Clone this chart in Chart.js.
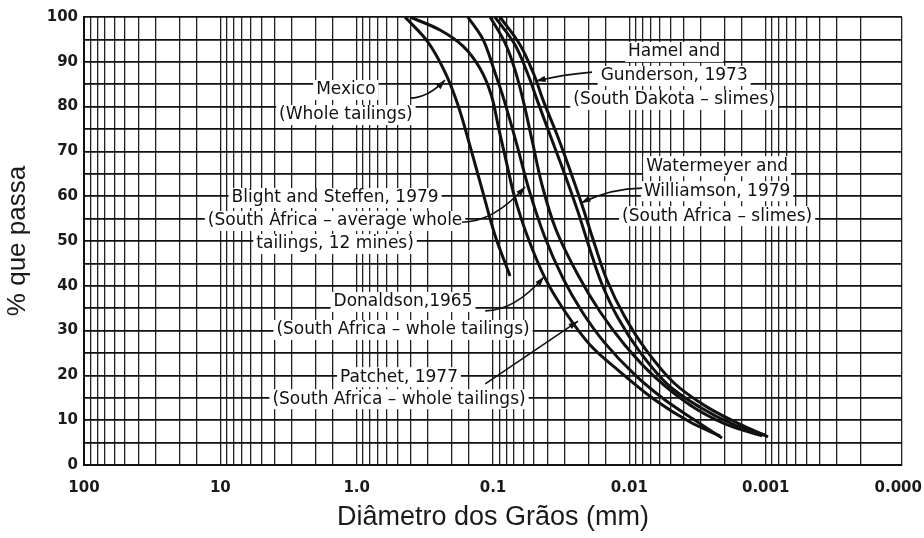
<!DOCTYPE html>
<html>
<head>
<meta charset="utf-8">
<script src="https://cdn.jsdelivr.net/npm/chart.js@4.4.0/dist/chart.umd.min.js"></script>
<style>
  html, body { margin: 0; padding: 0; background: #fff; }
</style>
</head>
<body>
<canvas id="chart" width="924" height="538"></canvas>
<script>
// eixo x: diâmetro (mm) em escala log invertida, eixo y: % que passa
const xTickValues = [100, 10, 1, 0.1, 0.01, 0.001, 0.0001];
const xTickLabels = ['100', '10', '1.0', '0.1', '0.01', '0.001', '0.000'];
const yTickValues = [0, 10, 20, 30, 40, 50, 60, 70, 80, 90, 100];

// curvas granulométricas
const mexicoDiam = [0.442, 0.300, 0.225, 0.181, 0.148, 0.120, 0.0967, 0.0750];
const mexicoPass = [100, 94.4, 87.7, 80.4, 71.4, 61.4, 51.3, 42.2];

const donaldsonDiam = [0.406, 0.245, 0.166, 0.125, 0.103, 0.0903, 0.0789, 0.0701, 0.0563, 0.0415, 0.0296, 0.0194, 0.0117, 0.00648, 0.00359, 0.00216];
const donaldsonPass = [100, 97.1, 93.5, 88.6, 82.6, 74.8, 67.0, 60.3, 51.3, 41.7, 34.2, 26.8, 20.8, 14.5, 9.6, 6.5];

const blightDiam = [0.153, 0.118, 0.0983, 0.0830, 0.0667, 0.0544, 0.0422, 0.0307, 0.0222, 0.0151, 0.00909, 0.00547, 0.00330, 0.00209];
const blightPass = [100, 94.9, 88.2, 81.5, 71.4, 61.4, 51.3, 41.7, 34.2, 27.2, 20.1, 14.5, 10.0, 6.0];

const patchetDiam = [0.105, 0.0816, 0.0690, 0.0602, 0.0517, 0.0437, 0.0345, 0.0238, 0.0164, 0.0108, 0.00648, 0.00359, 0.00199, 0.00106];
const patchetPass = [100, 94.2, 88.2, 81.5, 72.5, 62.5, 52.5, 42.4, 34.2, 26.8, 19.6, 13.4, 9.2, 6.5];

const hamelDiam = [0.0967, 0.0690, 0.0553, 0.0475, 0.0382, 0.0296, 0.0238, 0.0194, 0.0161, 0.0121, 0.00835, 0.00520, 0.00303, 0.00176, 0.00101];
const hamelPass = [100, 93.8, 87.1, 81.5, 73.7, 64.7, 56.5, 48.0, 40.8, 32.8, 25.2, 17.9, 12.9, 9.2, 6.7];

const waterDiam = [0.0888, 0.0634, 0.0500, 0.0430, 0.0339, 0.0268, 0.0222, 0.0179, 0.0146, 0.0109, 0.00755, 0.00470, 0.00278, 0.00162, 0.000961];
const waterPass = [100, 93.8, 87.1, 81.5, 73.7, 65.2, 58.0, 49.1, 41.3, 33.3, 25.7, 18.3, 13.2, 9.4, 6.3];

// rótulos das curvas (posição em valores dos eixos) e setas
const notes = [
  { lines: ['Mexico', '(Whole tailings)'], at: [1.20, 83.7], gap: 25, from: [0.406, 81.9], to: [0.225, 85.9], bend: 1 },
  { lines: ['Blight and Steffen, 1979', '(South Africa \u2013 average whole', 'tailings, 12 mines)'], at: [1.44, 59.6], gap: 23, from: [0.169, 54.2], to: [0.0581, 62.1], bend: 1 },
  { lines: ['Hamel and', 'Gunderson, 1973', '(South Dakota \u2013 slimes)'], at: [0.00469, 92.2], gap: 24, from: [0.0188, 87.7], to: [0.0483, 85.7], bend: 0.5 },
  { lines: ['Watermeyer and', 'Williamson, 1979', '(South Africa \u2013 slimes)'], at: [0.00227, 66.7], gap: 25, from: [0.00805, 61.8], to: [0.0226, 58.5], bend: 1 },
  { lines: ['Donaldson,1965', '(South Africa \u2013 whole tailings)'], at: [0.457, 36.4], gap: 28, from: [0.114, 34.4], to: [0.0422, 42.0], bend: 1 },
  { lines: ['Patchet, 1977', '(South Africa \u2013 whole tailings)'], at: [0.489, 19.6], gap: 22, from: [0.114, 18.1], to: [0.0238, 32.1], bend: 0 }
];

const NOTE_FONT = '17px "DejaVu Sans", sans-serif';

function toPoints(diam, pass) {
  return diam.map((d, i) => ({ x: d, y: pass[i] }));
}

function curve(diam, pass) {
  return {
    data: toPoints(diam, pass),
    borderColor: '#111',
    borderWidth: 3,
    pointRadius: 0,
    fill: false,
    tension: 0.35
  };
}

const notesPlugin = {
  id: 'notes',
  beforeDatasetsDraw(chart) {
    const { ctx, scales: { x, y } } = chart;
    ctx.save();
    ctx.font = NOTE_FONT;
    ctx.textAlign = 'center';
    ctx.textBaseline = 'middle';
    notes.forEach(n => {
      const cx = x.getPixelForValue(n.at[0]);
      const cy = y.getPixelForValue(n.at[1]);
      n.lines.forEach((t, i) => {
        const w = ctx.measureText(t).width;
        const ty = cy + i * n.gap;
        ctx.fillStyle = '#fff';
        ctx.fillRect(cx - w / 2 - 3, ty - 10, w + 6, 20);
        ctx.fillStyle = '#111';
        ctx.fillText(t, cx, ty);
      });
    });
    ctx.restore();
  },
  afterDatasetsDraw(chart) {
    const { ctx, scales: { x, y } } = chart;
    ctx.save();
    ctx.strokeStyle = '#111';
    ctx.fillStyle = '#111';
    ctx.lineWidth = 1.6;
    notes.forEach(n => {
      const fx = x.getPixelForValue(n.from[0]), fy = y.getPixelForValue(n.from[1]);
      const tx = x.getPixelForValue(n.to[0]), ty = y.getPixelForValue(n.to[1]);
      const mx = (fx + tx) / 2;
      const my = fy * n.bend + (fy + ty) / 2 * (1 - n.bend);
      ctx.beginPath();
      ctx.moveTo(fx, fy);
      ctx.quadraticCurveTo(mx, my, tx, ty);
      ctx.stroke();
      const ang = Math.atan2(ty - my, tx - mx);
      ctx.beginPath();
      ctx.moveTo(tx, ty);
      ctx.lineTo(tx - 10 * Math.cos(ang - 0.32), ty - 10 * Math.sin(ang - 0.32));
      ctx.lineTo(tx - 10 * Math.cos(ang + 0.32), ty - 10 * Math.sin(ang + 0.32));
      ctx.closePath();
      ctx.fill();
    });
    ctx.restore();
  }
};

new Chart(document.getElementById('chart'), {
  type: 'line',
  data: {
    datasets: [
      curve(mexicoDiam, mexicoPass),
      curve(donaldsonDiam, donaldsonPass),
      curve(blightDiam, blightPass),
      curve(patchetDiam, patchetPass),
      curve(hamelDiam, hamelPass),
      curve(waterDiam, waterPass)
    ]
  },
  options: {
    responsive: false,
    animation: false,
    layout: { padding: { left: 0, right: 22, top: 17, bottom: 0 } },
    plugins: { legend: { display: false }, tooltip: { enabled: false } },
    scales: {
      x: {
        type: 'logarithmic',
        reverse: true,
        min: 0.0001,
        max: 100,
        afterFit(scale) {
          scale.height = 73;
          scale.paddingLeft = 0;
          scale.paddingRight = 0;
        },
        grid: { color: '#222', lineWidth: 1.3, drawTicks: false },
        border: { display: true, color: '#111', width: 2 },
        ticks: {
          autoSkip: false,
          maxRotation: 0,
          padding: 14,
          color: '#1a1a1a',
          font: { family: '"DejaVu Sans", sans-serif', size: 15, weight: 'bold' },
          callback(value) {
            const i = xTickValues.findIndex(v => Math.abs(Math.log10(v) - Math.log10(value)) < 1e-6);
            if (i < 0) return '';
            // o último rótulo fica junto à borda: um espaço no fim puxa-o para dentro
            return i === xTickValues.length - 1 ? xTickLabels[i] + '\u2002' : xTickLabels[i];
          }
        },
        title: {
          display: true,
          text: 'Diâmetro dos Grãos (mm)',
          color: '#1a1a1a',
          font: { family: '"Liberation Sans", Arial, sans-serif', size: 27 },
          padding: { top: 4, bottom: 4 }
        }
      },
      y: {
        min: 0,
        max: 100,
        afterFit(scale) { scale.width = 84; },
        grid: { color: '#111', lineWidth: 1.8, drawTicks: false },
        border: { display: true, color: '#111', width: 2 },
        ticks: {
          stepSize: 5,
          autoSkip: false,
          padding: 6,
          color: '#1a1a1a',
          font: { family: '"DejaVu Sans", sans-serif', size: 15, weight: 'bold' },
          callback(value) {
            return yTickValues.includes(value) ? String(value) : '';
          }
        },
        title: {
          display: true,
          text: '% que passa',
          color: '#1a1a1a',
          font: { family: '"Liberation Sans", Arial, sans-serif', size: 26 },
          padding: { top: 2, bottom: 2 }
        }
      }
    }
  },
  plugins: [notesPlugin]
});
</script>
</body>
</html>
